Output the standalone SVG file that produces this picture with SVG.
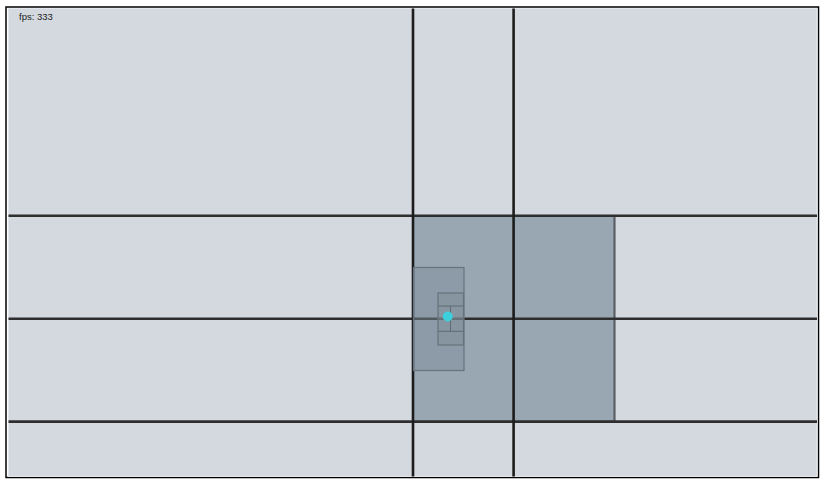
<svg xmlns="http://www.w3.org/2000/svg" width="822" height="482" viewBox="0 0 822 482">
<style>
.cell{fill:#d3d9df;stroke:#e4e8ec;stroke-width:1}
.dark{fill:#98a7b2;stroke:none}
.grid{stroke:#1c1c1c;stroke-width:2.6;fill:none}
.hgrid{stroke:#2e2e2e;stroke-width:2.6;fill:none}
.ov{fill:#7e8d98;fill-opacity:0.45;stroke:#66737c;stroke-width:1.2}
.thin{stroke:#5f6b73;stroke-width:1;fill:none}
</style>
<rect width="822" height="482" fill="#ffffff"/>
<rect x="6" y="7" width="812.5" height="470.5" fill="none" stroke="#000" stroke-width="1.5"/>
<g id="cells">
<rect class="cell" x="8.5" y="8.5" width="404" height="207"/>
<rect class="cell" x="413" y="8.5" width="100.5" height="207"/>
<rect class="cell" x="514" y="8.5" width="303" height="207"/>
<rect class="cell" x="8.5" y="216" width="404" height="103"/>
<rect class="cell" x="615" y="216" width="202" height="103"/>
<rect class="cell" x="8.5" y="319" width="404" height="102"/>
<rect class="cell" x="615" y="319" width="202" height="102"/>
<rect class="cell" x="8.5" y="421.5" width="404" height="55"/>
<rect class="cell" x="413" y="421.5" width="100.5" height="55"/>
<rect class="cell" x="514" y="421.5" width="303" height="55"/>
</g>
<g id="active-region">
<rect class="dark" x="413" y="216" width="201.5" height="205.5"/>
<line x1="614.5" y1="216" x2="614.5" y2="421.5" stroke="#5a5f63" stroke-width="2.2"/>
</g>
<g id="connectors">
<line class="hgrid" x1="8.5" y1="215.8" x2="817" y2="215.8"/>
<line class="hgrid" x1="8.5" y1="318.8" x2="817" y2="318.8"/>
<line class="hgrid" x1="8.5" y1="421.6" x2="817" y2="421.6"/>
<line class="grid" x1="413" y1="8.5" x2="413" y2="476.5"/>
<line class="grid" x1="513.6" y1="8.5" x2="513.6" y2="476.5"/>
</g>
<g id="query-box">
<rect class="ov" x="413.5" y="267.5" width="50.5" height="103"/>
<rect class="ov" x="438" y="293" width="25.5" height="52"/>
<line class="thin" x1="438" y1="306" x2="463.5" y2="306"/>
<line class="thin" x1="438" y1="331.3" x2="463.5" y2="331.3"/>
<line class="thin" x1="450.5" y1="306" x2="450.5" y2="331.3"/>
</g>
<g id="point">
<circle cx="447.7" cy="316.5" r="5" fill="#3ccfdc"/>
</g>
<text x="19" y="20" font-family="Liberation Sans, Arial, sans-serif" font-size="9.5" fill="#222">fps: 333</text>
</svg>
